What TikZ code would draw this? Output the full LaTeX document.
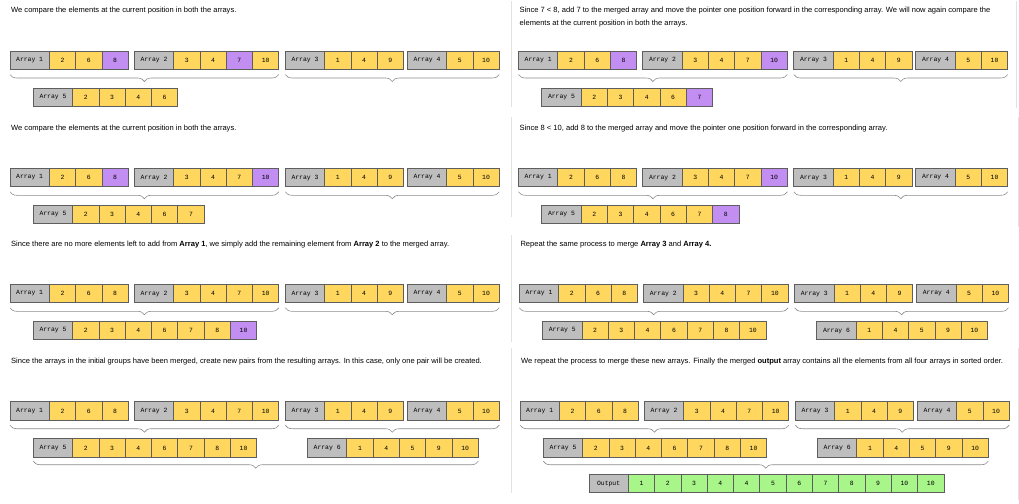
\documentclass[tikz,border=0pt]{standalone}
\usepackage{fontspec}
\setmainfont{Liberation Sans}
\newfontfamily\cellfont{Liberation Mono}
\usetikzlibrary{decorations.pathreplacing}

\definecolor{lblc}{HTML}{BEBEBE}
\definecolor{yelc}{HTML}{FFD75E}
\definecolor{purc}{HTML}{C28EF2}
\definecolor{grnc}{HTML}{A8F58A}
\definecolor{bordc}{HTML}{5E5E5E}
\definecolor{bracec}{HTML}{8C8C8C}
\definecolor{sepc}{HTML}{E2E2E2}

\tikzset{
  box/.style={draw=bordc, line width=0.7pt, inner sep=0pt, outer sep=0pt, minimum height=18.5pt, anchor=north west, font=\cellfont\fontsize{6.4}{7}\selectfont},
  lbl/.style={box, fill=lblc, minimum width=39.3pt},
  cell/.style={box, minimum width=26.3pt},
  yel/.style={cell, fill=yelc},
  pur/.style={cell, fill=purc},
  grn/.style={cell, fill=grnc},
  brc/.style={draw=bracec, line width=0.6pt, decorate, decoration={brace, mirror, amplitude=7pt}},
  caption/.style={anchor=base west, inner sep=0pt, align=left, font=\fontsize{7.55}{12.7}\selectfont},
  sep/.style={draw=sepc, line width=0.8pt}
}

% one array: label box, then its cells to the right
\newcommand{\drawarr}[4]{%
  \node[lbl] (#1) at (#3) {#2};
  \foreach \v/\s [count=\i] in {#4}
    \node[\s] (#1-\i) at ([xshift={(\i-1)*26.3pt}]#1.north east) {\v};
}

\begin{document}
\begin{tikzpicture}[x=1pt,y=-1pt]
\fill[white] (0,0) rectangle (1019,503);
\useasboundingbox (0,0) rectangle (1019,503);

% separators
\draw[sep] (511,1) -- (511,107);
\draw[sep] (511,117) -- (511,217);
\draw[sep] (511,235) -- (511,342);
\draw[sep] (511,348) -- (511,493);
\draw[sep] (1016,1) -- (1016,108);
\draw[sep] (1018,117) -- (1018,227);
\draw[sep] (1018,348) -- (1018,500);

% step 1
\begin{scope}[shift={(0,0)}]
\node[caption] (c1) at (11,13) {We compare the elements at the current position in both the arrays.};
\drawarr{p1a1}{Array 1}{10,51}{2/yel,6/yel,8/pur}
\drawarr{p1a2}{Array 2}{134.3,51}{3/yel,4/yel,7/pur,10/yel}
\drawarr{p1a3}{Array 3}{285.3,51}{1/yel,4/yel,9/yel}
\drawarr{p1a4}{Array 4}{407.3,51}{5/yel,10/yel}
\draw[brc] ([yshift=-5pt]p1a1.south west) -- ([yshift=-5pt]p1a2-4.south east);
\draw[brc] ([yshift=-5pt]p1a3.south west) -- ([yshift=-5pt]p1a4-2.south east);
\drawarr{p1a5}{Array 5}{33.3,88}{2/yel,3/yel,4/yel,6/yel}
\end{scope}

% step 2
\begin{scope}[shift={(508.5,0)}]
\node[caption] (c2) at (11,25.7) {Since 7 < 8, add 7 to the merged array and move the pointer one position forward in the corresponding array. We will now again compare the\\elements at the current position in both the arrays.};
\drawarr{p2a1}{Array 1}{10,51}{2/yel,6/yel,8/pur}
\drawarr{p2a2}{Array 2}{134.3,51}{3/yel,4/yel,7/yel,10/pur}
\drawarr{p2a3}{Array 3}{285.3,51}{1/yel,4/yel,9/yel}
\drawarr{p2a4}{Array 4}{407.3,51}{5/yel,10/yel}
\draw[brc] ([yshift=-5pt]p2a1.south west) -- ([yshift=-5pt]p2a2-4.south east);
\draw[brc] ([yshift=-5pt]p2a3.south west) -- ([yshift=-5pt]p2a4-2.south east);
\drawarr{p2a5}{Array 5}{33.3,88}{2/yel,3/yel,4/yel,6/yel,7/pur}
\end{scope}

% step 3
\begin{scope}[shift={(0,117.3)}]
\node[caption] (c3) at (11,13) {We compare the elements at the current position in both the arrays.};
\drawarr{p3a1}{Array 1}{10,51}{2/yel,6/yel,8/pur}
\drawarr{p3a2}{Array 2}{134.3,51}{3/yel,4/yel,7/yel,10/pur}
\drawarr{p3a3}{Array 3}{285.3,51}{1/yel,4/yel,9/yel}
\drawarr{p3a4}{Array 4}{407.3,51}{5/yel,10/yel}
\draw[brc] ([yshift=-5pt]p3a1.south west) -- ([yshift=-5pt]p3a2-4.south east);
\draw[brc] ([yshift=-5pt]p3a3.south west) -- ([yshift=-5pt]p3a4-2.south east);
\drawarr{p3a5}{Array 5}{33.3,88}{2/yel,3/yel,4/yel,6/yel,7/yel}
\end{scope}

% step 4
\begin{scope}[shift={(508.5,117.3)}]
\node[caption] (c4) at (11,13) {Since 8 < 10, add 8 to the merged array and move the pointer one position forward in the corresponding array.};
\drawarr{p4a1}{Array 1}{10,51}{2/yel,6/yel,8/yel}
\drawarr{p4a2}{Array 2}{134.3,51}{3/yel,4/yel,7/yel,10/pur}
\drawarr{p4a3}{Array 3}{285.3,51}{1/yel,4/yel,9/yel}
\drawarr{p4a4}{Array 4}{407.3,51}{5/yel,10/yel}
\draw[brc] ([yshift=-5pt]p4a1.south west) -- ([yshift=-5pt]p4a2-4.south east);
\draw[brc] ([yshift=-5pt]p4a3.south west) -- ([yshift=-5pt]p4a4-2.south east);
\drawarr{p4a5}{Array 5}{33.3,88}{2/yel,3/yel,4/yel,6/yel,7/yel,8/pur}
\end{scope}

% step 5
\begin{scope}[shift={(0,233.3)}]
\node[caption] (c5) at (11,13) {Since there are no more elements left to add from \textbf{Array 1}, we simply add the remaining element from \textbf{Array 2} to the merged array.};
\drawarr{p5a1}{Array 1}{10,51}{2/yel,6/yel,8/yel}
\drawarr{p5a2}{Array 2}{134.3,51}{3/yel,4/yel,7/yel,10/yel}
\drawarr{p5a3}{Array 3}{285.3,51}{1/yel,4/yel,9/yel}
\drawarr{p5a4}{Array 4}{407.3,51}{5/yel,10/yel}
\draw[brc] ([yshift=-5pt]p5a1.south west) -- ([yshift=-5pt]p5a2-4.south east);
\draw[brc] ([yshift=-5pt]p5a3.south west) -- ([yshift=-5pt]p5a4-2.south east);
\drawarr{p5a5}{Array 5}{33.3,88}{2/yel,3/yel,4/yel,6/yel,7/yel,8/yel,10/pur}
\end{scope}

% step 6
\begin{scope}[shift={(509.3,233.3)}]
\node[caption] (c6) at (11,13) {Repeat the same process to merge \textbf{Array 3} and \textbf{Array 4.}};
\drawarr{p6a1}{Array 1}{10,51}{2/yel,6/yel,8/yel}
\drawarr{p6a2}{Array 2}{134.3,51}{3/yel,4/yel,7/yel,10/yel}
\drawarr{p6a3}{Array 3}{285.3,51}{1/yel,4/yel,9/yel}
\drawarr{p6a4}{Array 4}{407.3,51}{5/yel,10/yel}
\draw[brc] ([yshift=-5pt]p6a1.south west) -- ([yshift=-5pt]p6a2-4.south east);
\draw[brc] ([yshift=-5pt]p6a3.south west) -- ([yshift=-5pt]p6a4-2.south east);
\drawarr{p6a5}{Array 5}{33.3,88}{2/yel,3/yel,4/yel,6/yel,7/yel,8/yel,10/yel}
\drawarr{p6a6}{Array 6}{307.5,88}{1/yel,4/yel,5/yel,9/yel,10/yel}
\end{scope}

% step 7
\begin{scope}[shift={(0,350.7)}]
\node[caption] (c7) at (11,13) {Since the arrays in the initial groups have been merged, create new pairs from the resulting arrays. In this case, only one pair will be created.};
\drawarr{p7a1}{Array 1}{10,51}{2/yel,6/yel,8/yel}
\drawarr{p7a2}{Array 2}{134.3,51}{3/yel,4/yel,7/yel,10/yel}
\drawarr{p7a3}{Array 3}{285.3,51}{1/yel,4/yel,9/yel}
\drawarr{p7a4}{Array 4}{407.3,51}{5/yel,10/yel}
\draw[brc] ([yshift=-5pt]p7a1.south west) -- ([yshift=-5pt]p7a2-4.south east);
\draw[brc] ([yshift=-5pt]p7a3.south west) -- ([yshift=-5pt]p7a4-2.south east);
\drawarr{p7a5}{Array 5}{33.3,88}{2/yel,3/yel,4/yel,6/yel,7/yel,8/yel,10/yel}
\drawarr{p7a6}{Array 6}{307.5,88}{1/yel,4/yel,5/yel,9/yel,10/yel}
\draw[brc] ([yshift=-4pt]p7a5.south west) -- ([yshift=-4pt]p7a6-5.south east);
\end{scope}

% step 8
\begin{scope}[shift={(510,350.7)}]
\node[caption] (c8) at (11,13) {We repeat the process to merge these new arrays. Finally the merged \textbf{output} array contains all the elements from all four arrays in sorted order.};
\drawarr{p8a1}{Array 1}{10,51}{2/yel,6/yel,8/yel}
\drawarr{p8a2}{Array 2}{134.3,51}{3/yel,4/yel,7/yel,10/yel}
\drawarr{p8a3}{Array 3}{285.3,51}{1/yel,4/yel,9/yel}
\drawarr{p8a4}{Array 4}{407.3,51}{5/yel,10/yel}
\draw[brc] ([yshift=-5pt]p8a1.south west) -- ([yshift=-5pt]p8a2-4.south east);
\draw[brc] ([yshift=-5pt]p8a3.south west) -- ([yshift=-5pt]p8a4-2.south east);
\drawarr{p8a5}{Array 5}{33.3,88}{2/yel,3/yel,4/yel,6/yel,7/yel,8/yel,10/yel}
\drawarr{p8a6}{Array 6}{307.5,88}{1/yel,4/yel,5/yel,9/yel,10/yel}
\draw[brc] ([yshift=-4pt]p8a5.south west) -- ([yshift=-4pt]p8a6-5.south east);
\drawarr{p8out}{Output}{79,123.6}{1/grn,2/grn,3/grn,4/grn,4/grn,5/grn,6/grn,7/grn,8/grn,9/grn,10/grn,10/grn}
\end{scope}
\end{tikzpicture}
\end{document}
